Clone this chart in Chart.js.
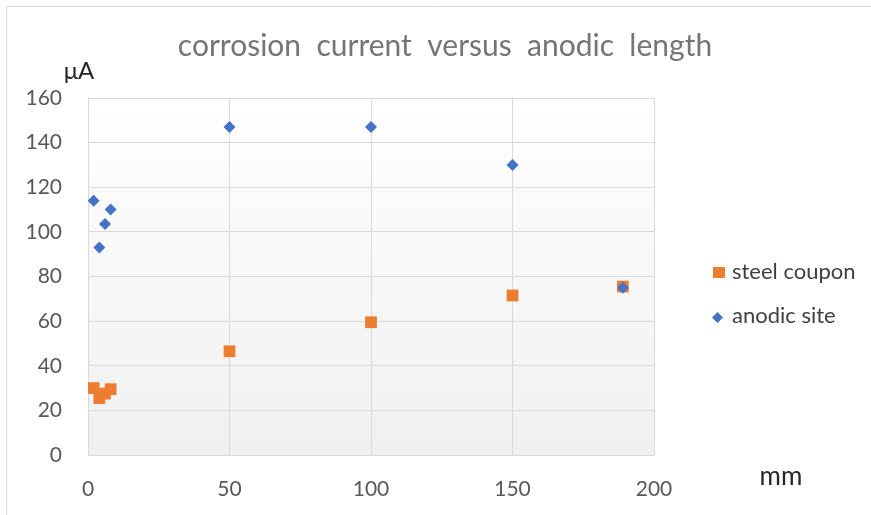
<!DOCTYPE html>
<html>
<head>
<meta charset="utf-8">
<script src="https://cdn.jsdelivr.net/npm/chart.js@4"></script>
<style>
  html, body { margin: 0; padding: 0; background: #ffffff; }
  #wrap { width: 871px; height: 515px; }
</style>
</head>
<body>
<div id="wrap"><canvas id="chart" width="871" height="515"></canvas></div>
<script>
// anodic length (mm) and corrosion current (uA)
const anodicX = [2, 4, 6, 8, 50, 100, 150, 189];
const anodicY = [114, 93, 103.5, 110, 147, 147, 130, 75];
const steelX = [2, 4, 6, 8, 50, 100, 150, 189];
const steelY = [30, 25.5, 27.5, 29.5, 46.5, 59.5, 71.5, 75.5];

const xTicks = [0, 50, 100, 150, 200];
const yTicks = [0, 20, 40, 60, 80, 100, 120, 140, 160];

const titleText = 'corrosion  current  versus  anodic  length';
const seriesNames = ['anodic site', 'steel coupon'];
const colors = { anodic: '#4472c4', steel: '#ed7d31' };

const toPoints = (xs, ys) => xs.map((x, i) => ({ x: x, y: ys[i] }));

const FONT = 'Lato, "Open Sans", sans-serif';
const gridColor = '#d9d9d9';

// plot background, frame, title, unit labels and legend
const decorPlugin = {
  id: 'decor',
  beforeDraw(chart) {
    const { ctx, chartArea: a } = chart;
    ctx.save();
    const g = ctx.createLinearGradient(0, a.top, 0, a.bottom);
    g.addColorStop(0, '#ffffff');
    g.addColorStop(1, '#f0f0f0');
    ctx.fillStyle = g;
    ctx.fillRect(a.left, a.top, a.right - a.left, a.bottom - a.top);
    // outer frame (top and left edges visible)
    ctx.strokeStyle = '#d9d9d9';
    ctx.lineWidth = 1;
    ctx.beginPath();
    ctx.moveTo(6.5, chart.height);
    ctx.lineTo(6.5, 6.5);
    ctx.lineTo(chart.width, 6.5);
    ctx.stroke();
    ctx.restore();
  },
  afterDraw(chart) {
    const { ctx } = chart;
    ctx.save();
    ctx.textBaseline = 'alphabetic';

    ctx.fillStyle = '#757575';
    ctx.font = '30px ' + FONT;
    ctx.textAlign = 'center';
    ctx.fillText(titleText, 445, 56);

    ctx.fillStyle = '#262626';
    ctx.font = '24px ' + FONT;
    ctx.fillText('\u03bcA', 79, 79);
    ctx.font = '26px ' + FONT;
    ctx.fillText('mm', 781, 485);

    // legend
    ctx.font = '22px ' + FONT;
    ctx.textAlign = 'left';
    ctx.fillStyle = '#404040';
    ctx.fillText('steel coupon', 732, 279);
    ctx.fillText('anodic site', 732, 323);
    ctx.fillStyle = colors.steel;
    ctx.fillRect(713, 267, 12, 11);
    ctx.fillStyle = colors.anodic;
    ctx.beginPath();
    ctx.moveTo(717.5, 312);
    ctx.lineTo(723, 317.5);
    ctx.lineTo(717.5, 323);
    ctx.lineTo(712, 317.5);
    ctx.closePath();
    ctx.fill();
    ctx.restore();
  }
};

new Chart(document.getElementById('chart'), {
  type: 'scatter',
  data: {
    datasets: [
      {
        label: seriesNames[0],
        data: toPoints(anodicX, anodicY),
        pointStyle: 'rectRot',
        pointRadius: 6,
        pointHoverRadius: 6,
        backgroundColor: colors.anodic,
        borderColor: colors.anodic,
        borderWidth: 0
      },
      {
        label: seriesNames[1],
        data: toPoints(steelX, steelY),
        pointStyle: 'rect',
        pointRadius: 8.3,
        pointHoverRadius: 8.3,
        backgroundColor: colors.steel,
        borderColor: colors.steel,
        borderWidth: 0
      }
    ]
  },
  options: {
    responsive: false,
    animation: false,
    layout: { padding: { left: 0, right: 217, top: 98, bottom: 0 } },
    plugins: {
      legend: { display: false },
      tooltip: { enabled: false },
      title: { display: false }
    },
    scales: {
      x: {
        type: 'linear',
        min: 0,
        max: 200,
        afterBuildTicks: (scale) => { scale.ticks = xTicks.map(v => ({ value: v })); },
        afterFit: (scale) => { scale.height = 60; },
        grid: { color: gridColor, drawTicks: false },
        border: { color: gridColor },
        ticks: {
          color: '#595959',
          font: { family: FONT, size: 21 },
          padding: 22,
          maxRotation: 0
        }
      },
      y: {
        type: 'linear',
        min: 0,
        max: 160,
        afterBuildTicks: (scale) => { scale.ticks = yTicks.map(v => ({ value: v })); },
        afterFit: (scale) => { scale.width = 88; },
        grid: { color: gridColor, drawTicks: false },
        border: { color: gridColor },
        ticks: {
          color: '#595959',
          font: { family: FONT, size: 21 },
          padding: 26
        }
      }
    }
  },
  plugins: [decorPlugin]
});
</script>
</body>
</html>
